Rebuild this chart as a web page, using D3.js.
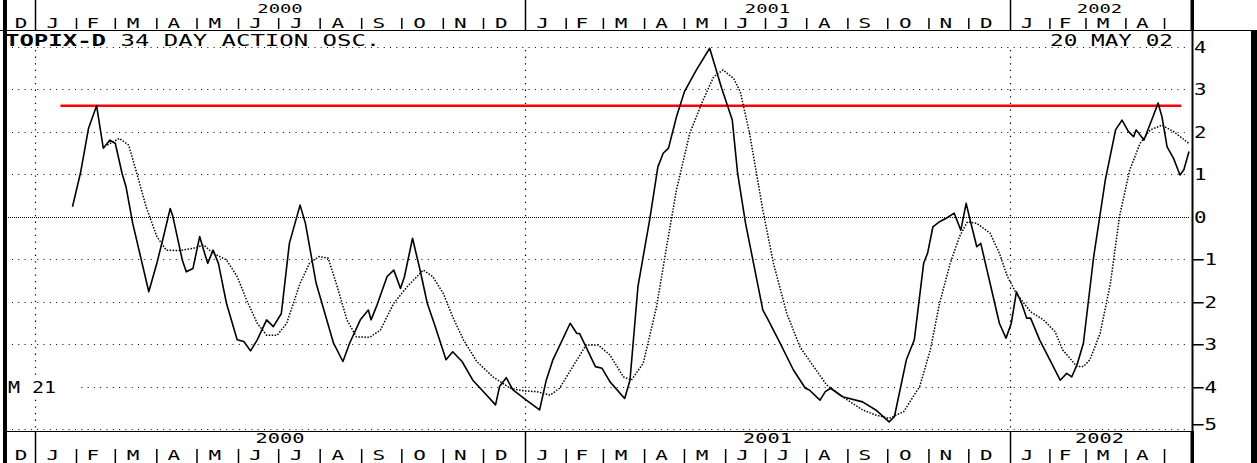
<!DOCTYPE html>
<html><head><meta charset="utf-8">
<script src="https://cdn.jsdelivr.net/npm/d3@7"></script>
<style>
body{margin:0;background:#fff}
svg{display:block}
text{font-family:"DejaVu Sans Mono",monospace;fill:#000;white-space:pre}
</style>
</head><body>
<svg id="c" width="1257" height="463"></svg>
<script>
// ---------- data ----------
const solidDates = ["2000-01-29","2000-02-04","2000-02-10","2000-02-16","2000-02-21","2000-02-26","2000-03-01","2000-03-06","2000-03-09","2000-03-14",
"2000-03-26","2000-04-01","2000-04-06","2000-04-11","2000-04-13","2000-04-20","2000-04-23","2000-04-28","2000-05-03","2000-05-06",
"2000-05-09","2000-05-13","2000-05-17","2000-05-23","2000-05-31","2000-06-05","2000-06-10","2000-06-15","2000-06-22","2000-06-27",
"2000-07-03","2000-07-09","2000-07-17","2000-07-21","2000-07-29","2000-08-11","2000-08-18","2000-08-23","2000-08-31","2000-09-06",
"2000-09-08","2000-09-12","2000-09-20","2000-09-25","2000-09-30","2000-10-03","2000-10-09","2000-10-15","2000-10-20","2000-10-26",
"2000-11-03","2000-11-08","2000-11-15","2000-11-23","2000-12-01","2000-12-10","2000-12-13","2000-12-18","2000-12-23","2001-01-02",
"2001-01-12","2001-01-17","2001-01-22","2001-02-04","2001-02-09","2001-02-11","2001-02-23","2001-02-28","2001-03-06","2001-03-17",
"2001-03-21","2001-03-27","2001-04-05","2001-04-11","2001-04-15","2001-04-19","2001-04-25","2001-05-01","2001-05-10","2001-05-20",
"2001-05-29","2001-06-06","2001-06-10","2001-06-16","2001-06-22","2001-06-29","2001-07-03","2001-07-12","2001-07-22","2001-07-31",
"2001-08-03","2001-08-11","2001-08-15","2001-08-19","2001-08-28","2001-09-12","2001-09-22","2001-10-02","2001-10-06","2001-10-15",
"2001-10-21","2001-10-28","2001-10-31","2001-11-04","2001-11-09","2001-11-14","2001-11-20","2001-11-25","2001-11-29","2001-12-02",
"2001-12-07","2001-12-10","2001-12-17","2001-12-24","2001-12-29","2002-01-02","2002-01-06","2002-01-10","2002-01-14","2002-01-17",
"2002-01-24","2002-02-09","2002-02-14","2002-02-18","2002-02-22","2002-02-27","2002-03-07","2002-03-16","2002-03-24","2002-03-29",
"2002-04-03","2002-04-07","2002-04-09","2002-04-15","2002-04-22","2002-04-26","2002-04-29","2002-05-03","2002-05-08","2002-05-13",
"2002-05-16","2002-05-20"];
const solidValues = [0.24,1.04,2.09,2.62,1.62,1.81,1.73,1.03,0.71,-0.15,
-1.76,-1.09,-0.46,0.20,0.01,-1.01,-1.29,-1.21,-0.46,-0.78,
-1.09,-0.78,-1.09,-2.03,-2.89,-2.93,-3.15,-2.89,-2.42,-2.58,
-2.27,-0.62,0.28,-0.15,-1.56,-2.97,-3.40,-2.97,-2.42,-2.19,
-2.42,-2.11,-1.40,-1.25,-1.68,-1.40,-0.50,-1.30,-2.03,-2.58,
-3.36,-3.17,-3.40,-3.84,-4.11,-4.42,-3.99,-3.78,-4.07,-4.31,
-4.54,-3.84,-3.36,-2.50,-2.74,-2.74,-3.52,-3.56,-3.88,-4.27,
-3.84,-1.64,-0.03,1.18,1.50,1.62,2.36,2.95,3.46,3.97,
3.03,2.28,1.03,-0.15,-1.09,-2.19,-2.42,-2.97,-3.60,-4.03,
-4.07,-4.31,-4.11,-4.03,-4.23,-4.35,-4.54,-4.82,-4.70,-3.36,
-2.89,-1.09,-0.85,-0.23,-0.11,-0.03,0.09,-0.31,0.32,-0.07,
-0.70,-0.62,-1.56,-2.50,-2.85,-2.50,-1.76,-2.03,-2.38,-2.38,
-2.89,-3.84,-3.68,-3.76,-3.48,-2.97,-0.93,0.87,2.05,2.28,
2.01,1.89,2.05,1.81,2.36,2.68,2.36,1.65,1.38,0.99,
1.11,1.54];

const maDates = ["2000-02-24","2000-03-04","2000-03-11","2000-03-17","2000-03-24","2000-04-01","2000-04-08","2000-04-18","2000-04-28","2000-05-06",
"2000-05-13","2000-05-23","2000-05-31","2000-06-07","2000-06-15","2000-06-22","2000-06-30","2000-07-07","2000-07-17","2000-07-24",
"2000-07-31","2000-08-07","2000-08-13","2000-08-21","2000-08-28","2000-09-07","2000-09-15","2000-09-25","2000-10-05","2000-10-17",
"2000-10-24","2000-11-01","2000-11-08","2000-11-16","2000-11-26","2000-12-08","2000-12-21","2000-12-31","2001-01-10","2001-01-20",
"2001-01-27","2001-02-06","2001-02-16","2001-02-25","2001-03-06","2001-03-16","2001-03-22","2001-03-31","2001-04-10","2001-04-18",
"2001-04-25","2001-05-05","2001-05-15","2001-05-23","2001-05-30","2001-06-07","2001-06-12","2001-06-19","2001-06-29","2001-07-07",
"2001-07-17","2001-07-27","2001-08-06","2001-08-16","2001-08-28","2001-09-12","2001-09-22","2001-10-02","2001-10-13","2001-10-25",
"2001-11-02","2001-11-09","2001-11-17","2001-11-24","2001-11-30","2001-12-07","2001-12-17","2001-12-24","2001-12-30","2002-01-06",
"2002-01-17","2002-01-27","2002-02-05","2002-02-11","2002-02-22","2002-02-27","2002-03-04","2002-03-12","2002-03-20","2002-03-27",
"2002-04-04","2002-04-12","2002-04-20","2002-04-29","2002-05-08","2002-05-20"];
const maValues = [1.69,1.85,1.69,1.03,0.24,-0.46,-0.78,-0.79,-0.74,-0.66,
-0.85,-1.01,-1.40,-1.95,-2.50,-2.78,-2.78,-2.50,-1.56,-1.09,
-0.93,-0.97,-1.56,-2.42,-2.82,-2.83,-2.66,-2.03,-1.64,-1.25,
-1.40,-1.80,-2.35,-2.89,-3.40,-3.76,-4.03,-4.09,-4.11,-4.19,
-4.03,-3.52,-3.01,-3.01,-3.25,-3.76,-3.84,-3.44,-2.11,-0.62,
0.64,1.97,2.75,3.30,3.46,3.26,2.95,1.97,0.16,-1.09,
-2.27,-3.06,-3.51,-3.95,-4.23,-4.54,-4.66,-4.74,-4.58,-3.99,
-3.13,-2.03,-1.09,-0.46,-0.11,-0.15,-0.38,-0.85,-1.40,-1.80,
-2.23,-2.42,-2.70,-3.13,-3.52,-3.52,-3.36,-2.74,-1.56,0.01,
1.11,1.73,2.05,2.16,2.01,1.73];

const yTicks = [4,3,2,1,0,-1,-2,-3,-4,-5];
const monthLetters = ["J","F","M","A","M","J","J","A","S","O","N","D"];
const yearLabels = ["2000","2001","2002"];
const redLevel = 2.62;
const redStart = "2000-01-20", redEnd = "2002-05-14";
const titleBold = "TOPIX-D", titleRest = " 34 DAY ACTION OSC.";
const dateLabel = "20 MAY 02";
const maLabel = "M 21";

// ---------- setup ----------
const svg = d3.select("#c");
const parse = d3.timeParse("%Y-%m-%d");
const x = d3.scaleTime()
  .domain([new Date(2000,0,1), new Date(2001,0,1), new Date(2002,0,1), new Date(2002,4,20)])
  .range([35, 525, 1010, 1189]);
const y = d3.scaleLinear().domain([-5,4]).range([429.5,47]);
const L = 7, R = 1192, T = 31, B = 431, END = 1189;

const solid = solidDates.map((d,i)=>({date:parse(d), value:solidValues[i]}));
const ma = maDates.map((d,i)=>({date:parse(d), value:maValues[i]}));

function stxt(g, px, py, str, size, sx, anchor, weight){
  return g.append("text")
    .attr("transform", `translate(${px},${py}) scale(${sx},1)`)
    .attr("text-anchor", anchor || "start")
    .attr("font-size", size)
    .attr("font-weight", weight || "normal")
    .text(str);
}

// ---------- grid ----------
const grid = svg.append("g");
yTicks.forEach(v=>{
  const yy = Math.floor(y(v)) + 0.5;
  grid.append("line")
    .attr("x1", v===0 ? 8 : 12).attr("x2", R-2)
    .attr("y1", yy).attr("y2", yy)
    .attr("stroke", "#000").attr("stroke-width", 1)
    .attr("stroke-dasharray", v===0 ? "1,1" : "1,5.3");
});
[new Date(2000,0,1), new Date(2001,0,1), new Date(2002,0,1)].forEach(d=>{
  const xx = Math.floor(x(d)) + 0.5;
  grid.append("line").attr("x1", xx).attr("x2", xx).attr("y1", 50).attr("y2", B-1)
    .attr("stroke", "#000").attr("stroke-width", 1.2).attr("stroke-dasharray", "1.3,5.3");
});

// ---------- M 21 label ----------
svg.append("rect").attr("x", L).attr("y", 377).attr("width", 74).attr("height", 20).attr("fill", "#fff");
stxt(svg, 8, 393, maLabel, 16, 1.25);

// ---------- red line ----------
svg.append("line")
  .attr("x1", x(parse(redStart))).attr("x2", x(parse(redEnd)))
  .attr("y1", y(redLevel)).attr("y2", y(redLevel))
  .attr("stroke", "#ff0000").attr("stroke-width", 2.5);

// ---------- series ----------
const line = d3.line().x(d=>x(d.date)).y(d=>y(d.value));
svg.append("path").datum(ma).attr("d", line)
  .attr("fill", "none").attr("stroke", "#000").attr("stroke-width", 1.5)
  .attr("stroke-dasharray", "1.5,1.5");
svg.append("path").datum(solid).attr("d", line)
  .attr("fill", "none").attr("stroke", "#000").attr("stroke-width", 1.6)
  .attr("stroke-linejoin", "round");

// ---------- titles ----------
const title = svg.append("text")
  .attr("transform", "translate(5,45.5) scale(1.5,1)")
  .attr("font-size", 16);
title.append("tspan").attr("font-weight", "bold").text(titleBold);
title.append("tspan").text(titleRest);
stxt(svg, 1173, 45.5, dateLabel, 16, 1.42, "end");

// ---------- right axis ----------
const ax = svg.append("g").attr("transform", `translate(${R},0)`)
  .call(d3.axisRight(y).tickValues(yTicks).tickSize(0).tickPadding(0));
ax.select(".domain").remove();
ax.attr("font-size", 16).attr("font-family", "DejaVu Sans Mono");
ax.selectAll("text").attr("x", d => d < 0 ? 0 : 1.6).attr("transform", "scale(1.3,1)").attr("fill", "#000");
ax.selectAll(".tick").filter(d => d === -5).select("text").attr("y", -5);

// ---------- month bands ----------
function band(yr0, yr1, tk0, tk1, lblY, yearY, mSize, ySize){
  const g = svg.append("g");
  const months = d3.timeMonth.range(new Date(1999,11,1), new Date(2002,5,1));
  months.forEach(m=>{
    const s = x(m), e = x(d3.timeMonth.offset(m,1));
    if (m.getMonth() === 0) {
      g.append("line").attr("x1", Math.floor(s)+0.5).attr("x2", Math.floor(s)+0.5)
        .attr("y1", yr0).attr("y2", yr1).attr("stroke", "#000").attr("stroke-width", 1.5);
    } else if (s > L && s < R-2) {
      g.append("line").attr("x1", s).attr("x2", s).attr("y1", tk0).attr("y2", tk1)
        .attr("stroke", "#000").attr("stroke-width", 1.5);
    }
    const vs = Math.max(s, L), ve = Math.min(e, END);
    if (ve - vs > 25) {
      const cx = (vs + ve)/2 - (s >= L ? 3 : 0);
      stxt(g, cx, lblY, monthLetters[m.getMonth()], mSize, 1.5, "middle");
    }
  });
  yearLabels.forEach(yl=>{
    const yv = +yl;
    const s = x(new Date(yv,0,1)), e = Math.min(x(new Date(yv+1,0,1)), END);
    stxt(g, (s+e)/2, yearY, yl, ySize, 1.45, "middle");
  });
}
band(0, 30, 18, 29, 28, 13, 14, 13);
band(431, 463, 449, 463, 459.5, 443, 14, 14);

// ---------- frame ----------
svg.append("line").attr("x1", 0).attr("x2", 1257).attr("y1", 30.5).attr("y2", 30.5)
  .attr("stroke", "#000").attr("stroke-width", 1);
svg.append("line").attr("x1", L).attr("x2", R+1).attr("y1", B+0.5).attr("y2", B+0.5)
  .attr("stroke", "#000").attr("stroke-width", 1);
svg.append("line").attr("x1", R+0.5).attr("x2", R+0.5).attr("y1", 30).attr("y2", 463)
  .attr("stroke", "#000").attr("stroke-width", 2);
svg.append("rect").attr("x", R-1.5).attr("y", 0).attr("width", 3.5).attr("height", 30).attr("fill", "#000");
svg.append("rect").attr("x", R-1.5).attr("y", B).attr("width", 3.5).attr("height", 463-B).attr("fill", "#000");
svg.append("rect").attr("x", 3).attr("y", 0).attr("width", 4).attr("height", 463).attr("fill", "#000");
svg.append("rect").attr("x", 1251).attr("y", 30).attr("width", 6).attr("height", 433).attr("fill", "#000");
</script>
</body></html>
